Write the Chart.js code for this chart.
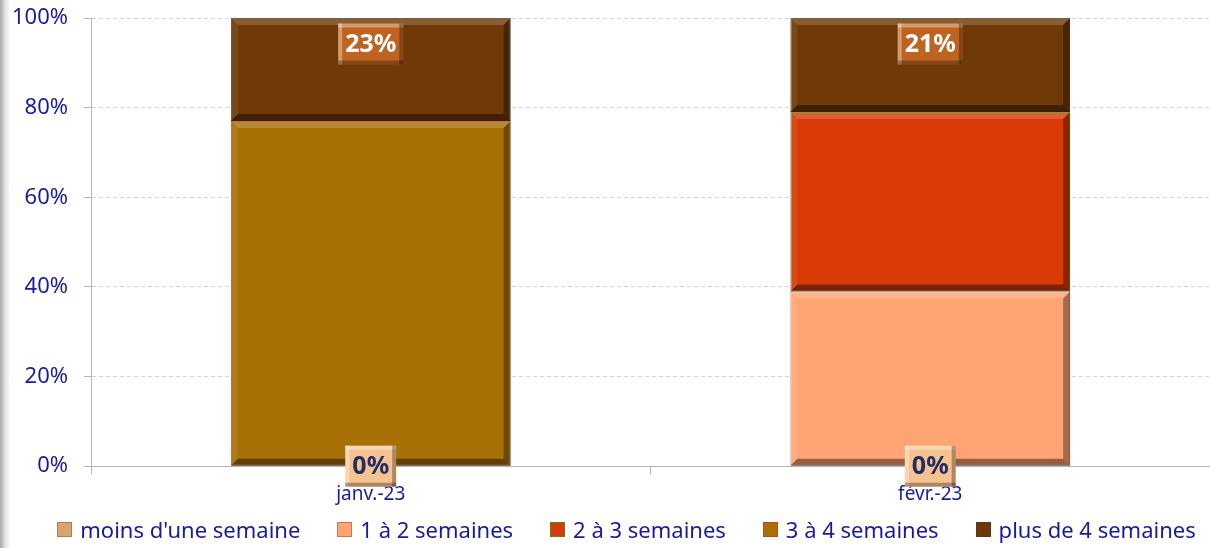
<!DOCTYPE html>
<html>
<head>
<meta charset="utf-8">
<script src="https://cdn.jsdelivr.net/npm/chart.js@4/dist/chart.umd.min.js"></script>
<style>
  html, body { margin: 0; padding: 0; background: #fff; }
  #wrap { position: relative; width: 1210px; height: 548px; }
  #edge { position: absolute; left: 0; top: 0; width: 9px; height: 548px;
          background: linear-gradient(to right, #a9a9a9, #e4e4e4 60%, #f4f4f4); }
  canvas { position: absolute; left: 0; top: 0; }
  #legend { position: absolute; left: 0; top: 514px; width: 1210px; display: flex; justify-content: center;
            gap: 37px; font: 22px "Noto Sans", sans-serif; color: #1a1a9c; padding-left: 43px; box-sizing: border-box; }
  #legend span { display: flex; align-items: center; white-space: nowrap; }
  #legend i { display: inline-block; width: 13px; height: 13px; margin-right: 8px; border: 1px solid; }
</style>
</head>
<body>
<div id="wrap">
  <canvas id="delaiChart" width="1210" height="548"></canvas>
  <div id="edge"></div>
  <div id="legend"></div>
</div>
<script>
// categories and values (percent of total)
const categories = ['janv.-23', 'févr.-23'];
const seriesNames = ["moins d'une semaine", '1 à 2 semaines', '2 à 3 semaines', '3 à 4 semaines', 'plus de 4 semaines'];
const moinsUneSemaine = [0, 0];
const unADeuxSemaines = [0, 39];
const deuxATroisSemaines = [0, 40];
const troisAQuatreSemaines = [77, 0];
const plusDeQuatreSemaines = [23, 21];
const yTicks = [0, 20, 40, 60, 80, 100];

const fills = ['#D9A46E', '#FFA472', '#D93A06', '#A87005', '#6F3A07'];
const borders = ['#B07E4E', '#C97A50', '#4E8A10', '#C8461A', '#5A3A1A'];
const navy = '#1a1a9c';

// bevel look on bars
const bevel = {
    id: 'bevel',
    afterDatasetsDraw(chart){
        const ctx = chart.ctx;
        chart.data.datasets.forEach(function(ds, di){
            const meta = chart.getDatasetMeta(di);
            meta.data.forEach(function(bar){
                const l = bar.x - bar.width/2, r = bar.x + bar.width/2;
                const t = Math.min(bar.y, bar.base), b = Math.max(bar.y, bar.base);
                if (b - t < 4) return;
                const d = Math.min(7, (b - t)/2);
                ctx.save();
                ctx.fillStyle = 'rgba(255,255,255,0.18)';
                ctx.beginPath(); ctx.moveTo(l,t); ctx.lineTo(r,t); ctx.lineTo(r-d,t+d); ctx.lineTo(l+d,t+d); ctx.closePath(); ctx.fill();
                ctx.fillStyle = 'rgba(255,255,255,0.08)';
                ctx.beginPath(); ctx.moveTo(l,t); ctx.lineTo(l+d,t+d); ctx.lineTo(l+d,b-d); ctx.lineTo(l,b); ctx.closePath(); ctx.fill();
                ctx.fillStyle = 'rgba(0,0,0,0.35)';
                ctx.beginPath(); ctx.moveTo(r,t); ctx.lineTo(r,b); ctx.lineTo(r-d,b-d); ctx.lineTo(r-d,t+d); ctx.closePath(); ctx.fill();
                ctx.fillStyle = 'rgba(0,0,0,0.42)';
                ctx.beginPath(); ctx.moveTo(l,b); ctx.lineTo(r,b); ctx.lineTo(r-d,b-d); ctx.lineTo(l+d,b-d); ctx.closePath(); ctx.fill();
                ctx.restore();
            });
        });
    }
};

function labelBox(ctx, cx, cy, txt, bg, fg){
    ctx.save();
    ctx.font = 'bold 25px "Noto Sans"';
    const w = ctx.measureText(txt).width + 14, h = 41;
    const l = cx - w/2, t = cy - h/2, d = 4;
    ctx.fillStyle = bg;
    ctx.fillRect(l, t, w, h);
    ctx.fillStyle = 'rgba(255,255,255,0.35)';
    ctx.fillRect(l, t, w, d);
    ctx.fillRect(l, t, d, h);
    ctx.fillStyle = 'rgba(0,0,0,0.3)';
    ctx.fillRect(l, t+h-d, w, d);
    ctx.fillRect(l+w-d, t, d, h);
    ctx.fillStyle = fg;
    ctx.textAlign = 'center';
    ctx.textBaseline = 'middle';
    ctx.fillText(txt, cx, cy + 1);
    ctx.restore();
}

// value labels on first and last series
const valueLabels = {
    id: 'valueLabels',
    afterDatasetsDraw(chart){
        const ctx = chart.ctx;
        const first = chart.getDatasetMeta(0);
        first.data.forEach(function(bar, i){
            labelBox(ctx, bar.x, bar.base, chart.data.datasets[0].data[i] + '%', '#F6C290', '#1F2F66');
        });
        const last = chart.getDatasetMeta(4);
        last.data.forEach(function(bar, i){
            labelBox(ctx, bar.x, bar.y + 26, chart.data.datasets[4].data[i] + '%', '#BF6420', '#ffffff');
        });
    }
};

const seriesValues = [moinsUneSemaine, unADeuxSemaines, deuxATroisSemaines, troisAQuatreSemaines, plusDeQuatreSemaines];

// legend as html, built from the same names and colours
const legendEl = document.getElementById('legend');
seriesNames.forEach(function(name, i){
    const item = document.createElement('span');
    const mark = document.createElement('i');
    mark.style.background = fills[i];
    mark.style.borderColor = borders[i];
    item.appendChild(mark);
    item.appendChild(document.createTextNode(name));
    legendEl.appendChild(item);
});

function noPad(axis){
    axis.paddingTop = 0; axis.paddingBottom = 0;
    axis.paddingLeft = 0; axis.paddingRight = 0;
}

new Chart(document.getElementById('delaiChart').getContext('2d'), {
    type: 'bar',
    data: {
        labels: categories,
        datasets: seriesNames.map(function(name, i){
            return {label: name, data: seriesValues[i], backgroundColor: fills[i], borderColor: borders[i],
                    borderWidth: 1, borderSkipped: false, barPercentage: 0.5, categoryPercentage: 1};
        })
    },
    options: {
        responsive: false,
        animation: false,
        layout: {padding: {top: 18, right: 0, left: 0, bottom: 33}},
        plugins: {
            legend: {display: false},
            tooltip: {enabled: false}
        },
        scales: {
            x: {
                stacked: true,
                afterFit: noPad,
                grid: {offset: true, drawOnChartArea: false, tickLength: 8, color: '#b5b5b5'},
                border: {color: '#b5b5b5'},
                ticks: {color: navy, font: {family: 'Noto Sans', size: 19}, padding: 9}
            },
            y: {
                stacked: true,
                min: 0, max: 100,
                afterBuildTicks: function(axis){ axis.ticks = yTicks.map(function(v){ return {value: v}; }); },
                afterFit: function(axis){ axis.width = 91; noPad(axis); },
                grid: {color: '#d4d4d4', tickLength: 7, tickColor: '#b5b5b5', tickBorderDash: []},
                border: {color: '#b5b5b5', dash: [4, 3]},
                ticks: {color: navy, font: {family: 'Noto Sans', size: 22}, padding: 16,
                        callback: function(v){ return v + '%'; }}
            }
        }
    },
    plugins: [bevel, valueLabels]
});
</script>
</body>
</html>
